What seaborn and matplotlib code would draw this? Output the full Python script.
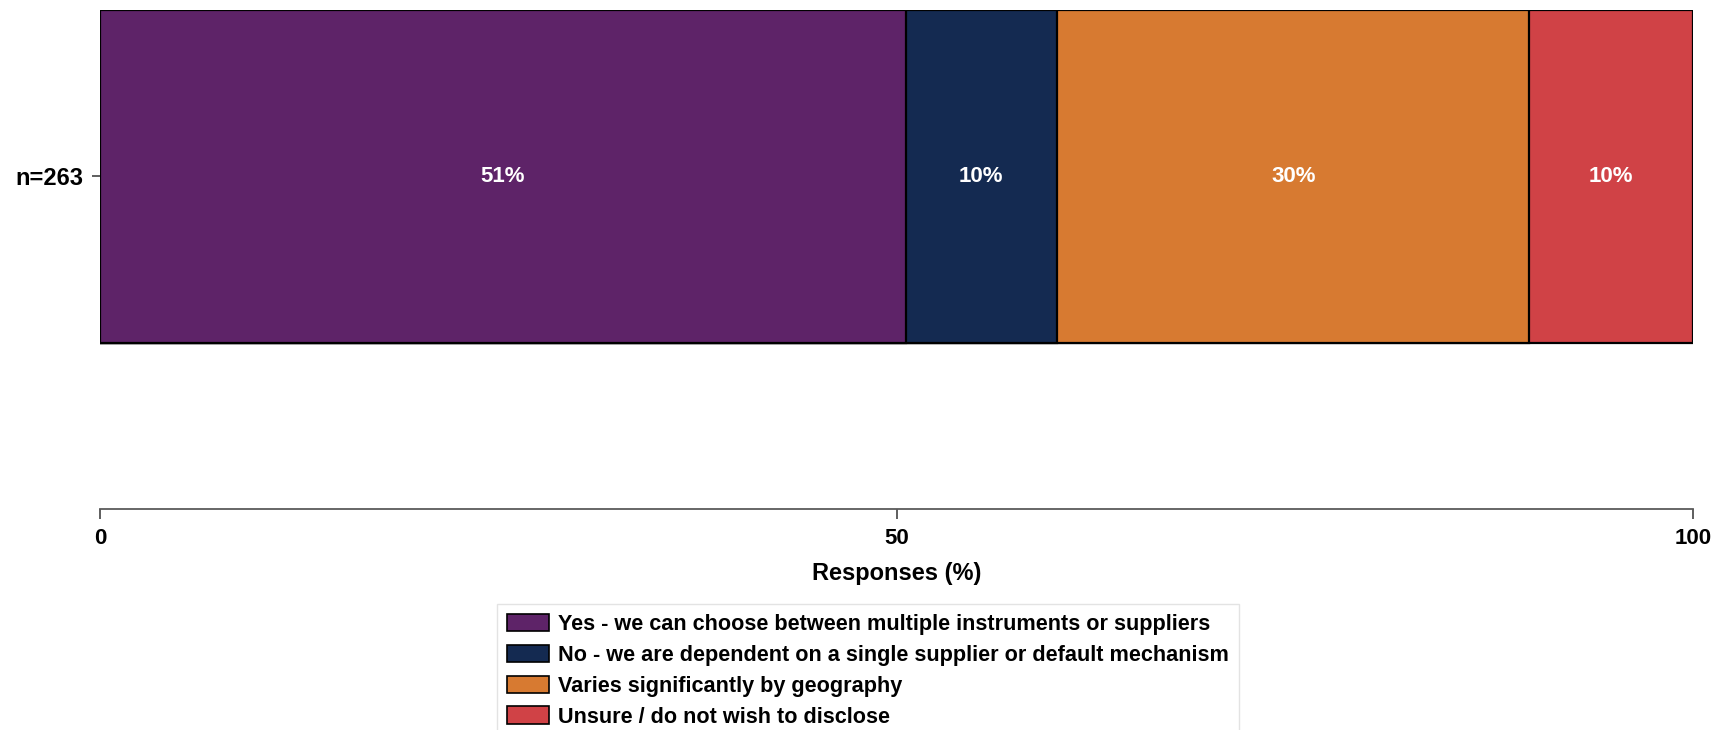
import matplotlib
matplotlib.use("Agg")
import matplotlib.pyplot as plt
from matplotlib.patches import Patch
import seaborn as sns
import numpy as np

# Survey responses for a single respondent group (counts per answer)
group = "n=263"
categories = [
    "Yes - we can choose between multiple instruments or suppliers",
    "No - we are dependent on a single supplier or default mechanism",
    "Varies significantly by geography",
    "Unsure / do not wish to disclose",
]
counts = [133, 25, 78, 27]
colors = ["#5E2368", "#142A51", "#D77A31", "#D04246"]
tick_values = [0, 50, 100]

values = np.array(counts) / sum(counts) * 100

sns.set_theme(style="white")
plt.rcParams["font.family"] = ["Liberation Sans", "DejaVu Sans"]
plt.rcParams["font.weight"] = "bold"
plt.rcParams["text.color"] = "black"
plt.rcParams["xtick.color"] = "black"
plt.rcParams["ytick.color"] = "black"
plt.rcParams["axes.labelcolor"] = "black"

fig = plt.figure(figsize=(17.2, 7.3), dpi=100)
W, H = 1720, 730
ax_left, ax_right = 100, 1693
ax_top, ax_bottom = 10, 509
ax = fig.add_axes([ax_left / W, 1 - ax_bottom / H,
                   (ax_right - ax_left) / W, (ax_bottom - ax_top) / H])

# Stacked bar: draw cumulative totals from largest to smallest so each
# segment overlays the ones to its right.
cum = np.cumsum(values)
for i in range(len(values) - 1, -1, -1):
    sns.barplot(x=[cum[i]], y=[group], orient="h", color=colors[i],
                saturation=1, edgecolor="black", linewidth=1.6,
                width=0.8, ax=ax)

starts = cum - values
for s, v in zip(starts, values):
    ax.text(s + v / 2, 0, f"{v:.0f}%", ha="center", va="center",
            color="white", fontsize=16, fontweight="bold")

ax.set_xlim(0, 100)
ax.set_ylim(0.8, -0.4)
ax.set_xticks(tick_values)
ax.set_xticklabels([str(t) for t in tick_values], fontsize=16, fontweight="bold")
ax.set_xlabel("Responses (%)", fontsize=17, fontweight="bold", labelpad=9)
ax.set_ylabel("")
for lab in ax.get_yticklabels():
    lab.set_fontsize(17)
    lab.set_fontweight("bold")

for side in ["top", "right", "left"]:
    ax.spines[side].set_visible(False)
ax.spines["bottom"].set_color("#5a5a5a")
ax.spines["bottom"].set_linewidth(1.3)
ax.tick_params(axis="x", bottom=True, length=7, width=1.1, color="#333333", pad=7)
ax.tick_params(axis="y", left=True, length=6, width=1.1, color="#333333", pad=6)

handles = [Patch(facecolor=c, edgecolor="black", linewidth=1.2) for c in colors]
leg = fig.legend(handles, categories, loc="upper center",
                 bbox_to_anchor=(868 / W, 1 - 604 / H), borderaxespad=0,
                 frameon=True, fancybox=False, edgecolor="#dddddd",
                 prop={"size": 15.6, "weight": "bold"},
                 handlelength=1.95, handleheight=0.85, labelspacing=0.45,
                 borderpad=0.45, handletextpad=0.4)
leg.get_frame().set_linewidth(1.0)

fig.savefig("out.png", dpi=100)
